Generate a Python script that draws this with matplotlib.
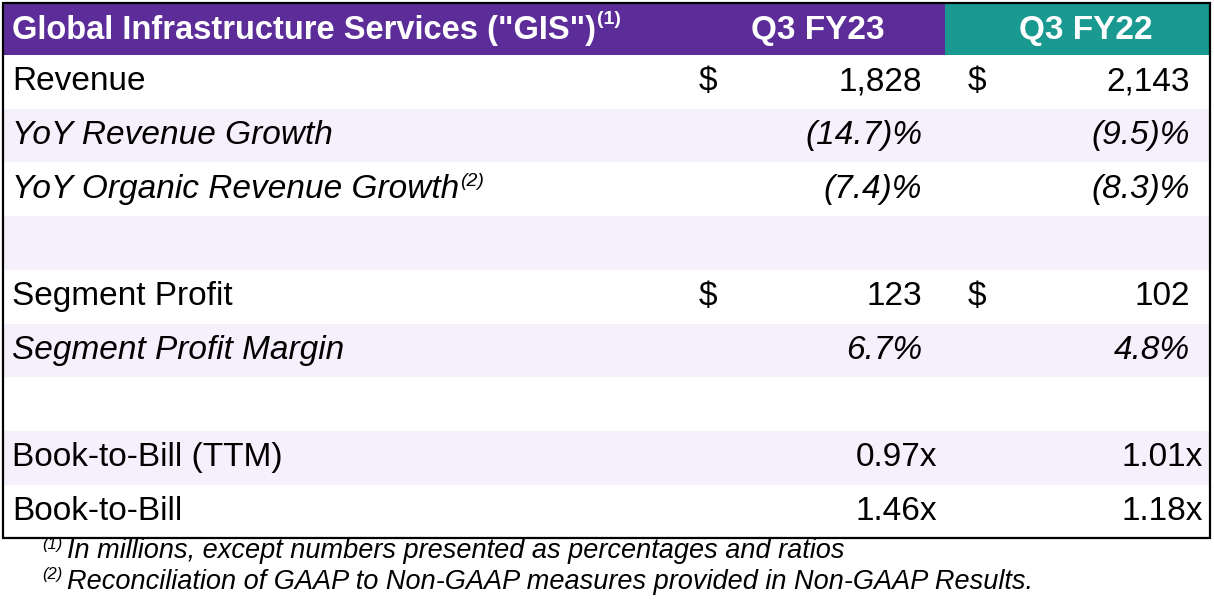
import matplotlib
matplotlib.use("Agg")
import matplotlib.pyplot as plt
from matplotlib.patches import Rectangle

plt.rcParams['font.family'] = ['Liberation Sans', 'DejaVu Sans']

# table content
title = 'Global Infrastructure Services ("GIS")'
columns = ["Q3 FY23", "Q3 FY22"]
row_labels = ["Revenue", "YoY Revenue Growth", "YoY Organic Revenue Growth", "",
              "Segment Profit", "Segment Profit Margin", "",
              "Book-to-Bill (TTM)", "Book-to-Bill"]
row_italic = [False, True, True, False, False, True, False, False, False]
row_sup = ["", "", "(2)", "", "", "", "", "", ""]
row_dollar = [True, False, False, False, True, False, False, False, False]
fy23_vals = ["1,828", "(14.7)%", "(7.4)%", "", "123", "6.7%", "", "0.97x", "1.46x"]
fy22_vals = ["2,143", "(9.5)%", "(8.3)%", "", "102", "4.8%", "", "1.01x", "1.18x"]
footnotes = [("(1)", "In millions, except numbers presented as percentages and ratios"),
             ("(2)", "Reconciliation of GAAP to Non-GAAP measures provided in Non-GAAP Results.")]

PURPLE = "#5c2d99"
TEAL = "#1a9990"
SHADE = "#f5f0fb"

W, H = 1214, 610
fig = plt.figure(figsize=(W / 100, H / 100), dpi=100)
ax = fig.add_axes([0, 0, 1, 1])
ax.set_xlim(0, W)
ax.set_ylim(H, 0)
ax.axis("off")

left, right = 3, 1210
top, head_h = 3, 52
row_h = 53.7
split = 945
fs = 24

# header
ax.add_patch(Rectangle((left, top), split - left, head_h, color=PURPLE, lw=0))
ax.add_patch(Rectangle((split, top), right - split, head_h, color=TEAL, lw=0))
hy = top + head_h / 2 + 1
t = ax.text(12, hy, title, color="white", fontsize=23.5, fontweight="bold", va="center", ha="left")
fig.canvas.draw()
r = fig.canvas.get_renderer()
bb = t.get_window_extent(r)
ax.text(bb.x1 + 1, hy - 10, "(1)", color="white", fontsize=14, fontweight="bold", va="center", ha="left")
ax.text(818, hy + 1, columns[0], color="white", fontsize=24, fontweight="bold", va="center", ha="center")
ax.text(1086, hy + 1, columns[1], color="white", fontsize=24, fontweight="bold", va="center", ha="center")

# body rows
y0 = top + head_h
for i, lab in enumerate(row_labels):
    ry = y0 + i * row_h
    if i % 2 == 1:
        ax.add_patch(Rectangle((left, ry), right - left, row_h, color=SHADE, lw=0))
    cy = ry + row_h / 2
    style = "italic" if row_italic[i] else "normal"
    t = ax.text(12, cy, lab, fontsize=fs, style=style, va="center", ha="left", color="black")
    if row_sup[i]:
        fig.canvas.draw()
        bb = t.get_window_extent(r)
        ax.text(bb.x1 + 1, cy - 8, row_sup[i], fontsize=14, style="italic", va="center", ha="left")
    shift = 15 if fy23_vals[i].endswith("x") else 0
    if row_dollar[i]:
        ax.text(699, cy, "$", fontsize=fs, va="center", ha="left")
        ax.text(968, cy, "$", fontsize=fs, va="center", ha="left")
    ax.text(922 + shift, cy, fy23_vals[i], fontsize=fs, style=style, va="center", ha="right")
    ax.text(1190 + shift - 2 * (shift > 0), cy, fy22_vals[i], fontsize=fs, style=style, va="center", ha="right")

bottom = y0 + len(row_labels) * row_h
ax.add_patch(Rectangle((left, top), right - left, bottom - top, fill=False, ec="black", lw=1.6))

# footnotes
for j, (mark, note) in enumerate(footnotes):
    fy = 551 + j * 31
    ax.text(42, fy - 7, mark, fontsize=12, style="italic", va="center", ha="left")
    ax.text(67, fy, note, fontsize=19.5, style="italic", va="center", ha="left")

fig.savefig("out.png", dpi=100)
